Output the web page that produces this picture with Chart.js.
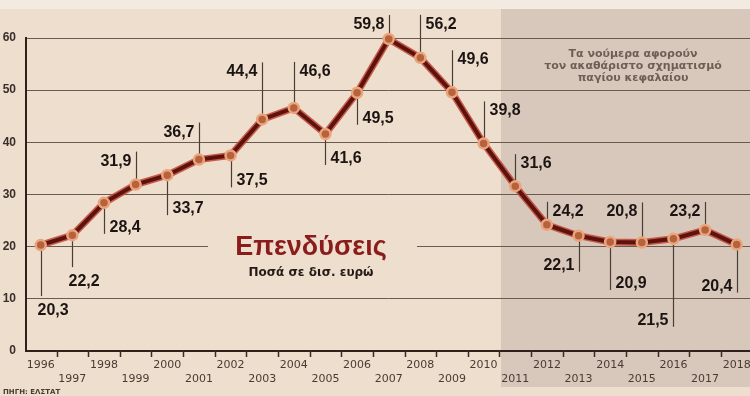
<!DOCTYPE html>
<html lang="el">
<head>
<meta charset="utf-8">
<title>Επενδύσεις</title>
<script src="https://cdn.jsdelivr.net/npm/chart.js@4.4.1/dist/chart.umd.min.js"></script>
<style>
  html, body { margin: 0; padding: 0; background: #eedece; }
  #wrap { width: 750px; height: 396px; }
</style>
</head>
<body>
<div id="wrap"><canvas id="investChart" width="750" height="396"></canvas></div>
<script>
// Investment (gross fixed capital formation), bn euro
const years = [1996, 1997, 1998, 1999, 2000, 2001, 2002, 2003, 2004, 2005, 2006, 2007,
               2008, 2009, 2010, 2011, 2012, 2013, 2014, 2015, 2016, 2017, 2018];
const values = [20.3, 22.2, 28.4, 31.9, 33.7, 36.7, 37.5, 44.4, 46.6, 41.6, 49.5, 59.8,
                56.2, 49.6, 39.8, 31.6, 24.2, 22.1, 20.9, 20.8, 21.5, 23.2, 20.4];
const yTicks = [0, 10, 20, 30, 40, 50, 60];

// callout layout for each value label (direction, leader length in px, side of text)
const calloutDir = ['under', 'under', 'down', 'up', 'down', 'up', 'down', 'up', 'up', 'down', 'down', 'up',
                    'up', 'up', 'up', 'up', 'up', 'down', 'down', 'up', 'down', 'up', 'down'];
const calloutLen = [51, 32, 31, 33, 40, 37, 32, 57, 46, 31, 32, 24, 43, 42, 42, 32, 23, 36, 48, 40, 88, 28, 48];
const calloutSide = ['left', 'left', 'right', 'left', 'right', 'left', 'right', 'left', 'right', 'right', 'right', 'left',
                     'right', 'right', 'right', 'right', 'right', 'left', 'right', 'left', 'left', 'left', 'left'];

const points = years.map((yr, i) => ({ x: yr, y: values[i] }));

const decor = {
    id: 'decor',
    beforeDraw(chart) {
        const ctx = chart.ctx;
        const xs = chart.scales.x;
        ctx.save();
        ctx.fillStyle = '#eedece';
        ctx.fillRect(0, 0, chart.width, chart.height);
        ctx.fillStyle = '#f3ebe2';
        ctx.fillRect(0, 0, chart.width, 9);
        // shaded part of the chart (from 2011 on)
        const sx = Math.round(xs.getPixelForValue(2010.55));
        ctx.fillStyle = '#d8c8bc';
        ctx.fillRect(sx, 9, chart.width - sx, 378);
        ctx.restore();
    },
    beforeDatasetsDraw(chart) {
        const ctx = chart.ctx;
        const xs = chart.scales.x, ys = chart.scales.y;
        ctx.save();

        // break in the 20 line for the title
        const y20 = ys.getPixelForValue(20);
        ctx.fillStyle = '#eedece';
        ctx.fillRect(208, y20 - 3, 209, 6);

        ctx.textAlign = 'center';
        ctx.fillStyle = '#8a1c1c';
        ctx.font = 'bold 27px "Liberation Sans", Arial, sans-serif';
        ctx.fillText('Επενδύσεις', 311, 255);
        ctx.fillStyle = '#231a17';
        ctx.font = 'bold 12px "DejaVu Sans", sans-serif';
        ctx.fillText('Ποσά σε δισ. ευρώ', 311, 276);

        ctx.fillStyle = '#6e5e55';
        ctx.font = 'bold 11px "DejaVu Sans", sans-serif';
        ctx.fillText('Τα νούμερα αφορούν', 633, 57);
        ctx.fillText('τον ακαθάριστο σχηματισμό', 633, 69);
        ctx.fillText('παγίου κεφαλαίου', 633, 81);

        // leader lines + value labels
        ctx.font = 'bold 17px "Liberation Sans", Arial, sans-serif';
        ctx.fillStyle = '#1c1412';
        ctx.strokeStyle = '#4a3d37';
        ctx.lineWidth = 1.2;
        years.forEach((yr, i) => {
            const px = Math.round(xs.getPixelForValue(yr)) + 0.5;
            const py = ys.getPixelForValue(values[i]);
            const dir = calloutDir[i];
            const end = dir === 'up' ? py - calloutLen[i] : py + calloutLen[i];
            ctx.beginPath();
            ctx.moveTo(px, py);
            ctx.lineTo(px, end);
            ctx.stroke();

            const txt = values[i].toFixed(1).replace('.', ',');
            let tx, base;
            if (dir === 'under') {
                ctx.textAlign = 'left';
                tx = px - 4;
                base = end + 19;
            } else {
                if (calloutSide[i] === 'left') {
                    ctx.textAlign = 'right';
                    tx = px - 5;
                } else {
                    ctx.textAlign = 'left';
                    tx = px + 5;
                }
                base = dir === 'up' ? end + 14 : end - 2;
            }
            ctx.save();
            ctx.translate(tx, base);
            ctx.scale(0.94, 1);
            ctx.fillText(txt, 0, 0);
            ctx.restore();
        });
        ctx.restore();
    },
    afterDraw(chart) {
        const ctx = chart.ctx;
        const xs = chart.scales.x;
        const bottom = chart.chartArea.bottom;
        ctx.save();
        // tick marks sit between the years
        ctx.strokeStyle = '#3a2a25';
        ctx.lineWidth = 1.5;
        for (let i = 0; i < years.length - 1; i++) {
            const px = Math.round(xs.getPixelForValue(years[i] + 0.5)) + 0.5;
            ctx.beginPath();
            ctx.moveTo(px, bottom);
            ctx.lineTo(px, bottom + 6);
            ctx.stroke();
        }
        ctx.fillStyle = '#4a3a33';
        ctx.font = 'bold 7px "DejaVu Sans", sans-serif';
        ctx.textAlign = 'left';
        ctx.fillText('ΠΗΓΗ: ΕΛΣΤΑΤ', 3, 394);
        ctx.restore();
    }
};

new Chart(document.getElementById('investChart').getContext('2d'), {
    type: 'line',
    data: {
        datasets: [{
            data: points,
            borderColor: '#5e120e',
            borderWidth: 4,
            pointRadius: 5,
            pointBackgroundColor: '#b5633f',
            pointBorderColor: '#eba47c',
            pointBorderWidth: 2.5,
            tension: 0,
            clip: false
        }, {
            data: points,
            borderColor: 'rgba(190, 70, 50, 0.85)',
            borderWidth: 7,
            pointRadius: 0,
            tension: 0,
            clip: false
        }]
    },
    options: {
        responsive: false,
        animation: false,
        devicePixelRatio: 1,
        layout: { autoPadding: false, padding: { top: 38, left: 0, right: 0, bottom: 0 } },
        plugins: {
            legend: { display: false },
            tooltip: { enabled: false }
        },
        scales: {
            x: {
                type: 'linear',
                min: 1995.535,
                max: 2018.42,
                afterBuildTicks: s => { s.ticks = years.map(v => ({ value: v })); },
                afterFit: s => { s.height = 45; s.paddingLeft = 0; s.paddingRight = 0; },
                grid: { display: false },
                border: { display: true, color: '#2e211d', width: 2 },
                ticks: {
                    autoSkip: false,
                    maxRotation: 0,
                    padding: 0,
                    color: '#4a3a33',
                    font: { family: 'DejaVu Sans', size: 11, lineHeight: 1.2 },
                    callback: v => (v % 2 === 0 ? [String(v)] : ['', String(v)])
                }
            },
            y: {
                min: 0,
                max: 60,
                afterBuildTicks: s => { s.ticks = yTicks.map(v => ({ value: v })); },
                afterFit: s => { s.width = 26; s.paddingTop = 0; s.paddingBottom = 0; },
                grid: { color: '#6b5a50', lineWidth: 1, drawTicks: false },
                border: { display: true, color: '#2e211d', width: 2 },
                ticks: {
                    padding: 10,
                    color: '#3a2e2a',
                    font: { family: 'Liberation Sans', weight: 'bold', size: 12 }
                }
            }
        }
    },
    plugins: [decor]
});
</script>
</body>
</html>
